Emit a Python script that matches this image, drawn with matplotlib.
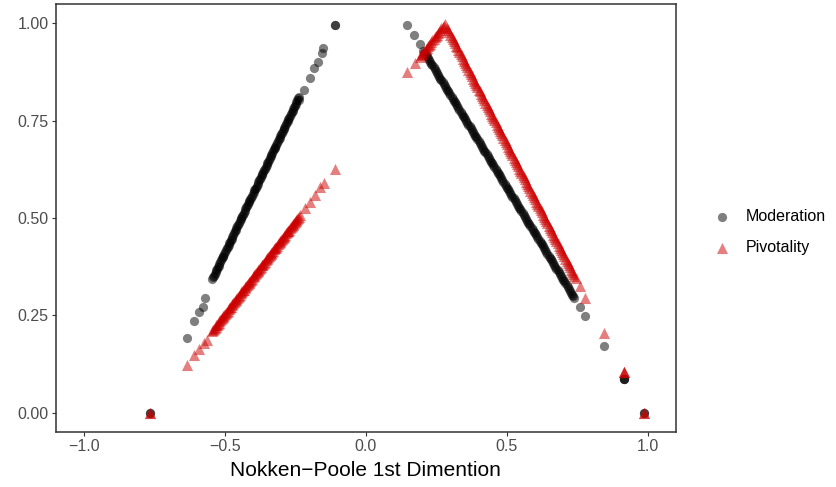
import matplotlib.pyplot as plt

plt.rcParams['font.family'] = ['Liberation Sans', 'DejaVu Sans']

# ---- Moderation (circles) ----
mod_left_x = [-0.764, -0.764, -0.636, -0.609, -0.593, -0.579, -0.569, -0.545,
              -0.539, -0.533, -0.528, -0.522, -0.516, -0.510, -0.505, -0.499, -0.493,
              -0.487, -0.482, -0.476, -0.470, -0.464, -0.459, -0.453, -0.447, -0.441,
              -0.436, -0.430, -0.424, -0.418, -0.413, -0.407, -0.401, -0.395, -0.390,
              -0.384, -0.378, -0.372, -0.367, -0.361, -0.355, -0.349, -0.344, -0.338,
              -0.332, -0.326, -0.321, -0.315, -0.309, -0.303, -0.298, -0.292, -0.286,
              -0.280, -0.275, -0.269, -0.263, -0.257, -0.252, -0.246, -0.240, -0.236,
              -0.219, -0.198, -0.183, -0.169, -0.155, -0.151, -0.109, -0.109]
mod_left_y = [0.000, 0.000, 0.191, 0.234, 0.258, 0.272, 0.294, 0.342,
              0.352, 0.361, 0.368, 0.377, 0.387, 0.396, 0.403, 0.412, 0.422,
              0.431, 0.438, 0.447, 0.457, 0.466, 0.473, 0.482, 0.492, 0.501,
              0.508, 0.517, 0.527, 0.536, 0.543, 0.552, 0.562, 0.571, 0.578,
              0.587, 0.597, 0.606, 0.613, 0.622, 0.632, 0.641, 0.648, 0.658,
              0.667, 0.676, 0.683, 0.693, 0.702, 0.711, 0.718, 0.728, 0.737,
              0.746, 0.753, 0.763, 0.772, 0.781, 0.788, 0.798, 0.807, 0.803,
              0.828, 0.859, 0.885, 0.900, 0.923, 0.936, 0.997, 0.997]
mod_left_fill_x = [-0.542, -0.536, -0.530, -0.525, -0.519, -0.513, -0.507, -0.502,
                   -0.496, -0.490, -0.484, -0.479, -0.473, -0.467, -0.461, -0.456,
                   -0.450, -0.444, -0.438, -0.433, -0.427, -0.421, -0.415, -0.410,
                   -0.404, -0.398, -0.392, -0.387, -0.381, -0.375, -0.369, -0.364,
                   -0.358, -0.352, -0.346, -0.341, -0.335, -0.329, -0.323, -0.318,
                   -0.312, -0.306, -0.300, -0.295, -0.289, -0.283, -0.277, -0.272,
                   -0.266, -0.260, -0.254, -0.249, -0.243, -0.238]
mod_left_fill_y = [0.347, 0.356, 0.365, 0.373, 0.382, 0.391, 0.400, 0.408,
                   0.417, 0.426, 0.435, 0.443, 0.452, 0.461, 0.470, 0.478,
                   0.487, 0.496, 0.505, 0.513, 0.522, 0.531, 0.540, 0.548,
                   0.557, 0.566, 0.575, 0.583, 0.592, 0.601, 0.610, 0.618,
                   0.627, 0.636, 0.645, 0.653, 0.662, 0.671, 0.680, 0.688,
                   0.697, 0.706, 0.715, 0.723, 0.732, 0.741, 0.750, 0.758,
                   0.767, 0.776, 0.785, 0.793, 0.802, 0.810]

mod_right_x = [0.147, 0.171, 0.192,
               0.204, 0.212, 0.220, 0.228, 0.236, 0.244, 0.252, 0.260, 0.268, 0.276,
               0.284, 0.292, 0.300, 0.308, 0.316, 0.324, 0.332, 0.340, 0.348, 0.356,
               0.364, 0.372, 0.380, 0.388, 0.396, 0.404, 0.412, 0.420, 0.428, 0.436,
               0.444, 0.452, 0.460, 0.468, 0.476, 0.484, 0.492, 0.500, 0.508, 0.516,
               0.524, 0.532, 0.540, 0.548, 0.556, 0.564, 0.572, 0.580, 0.588, 0.596,
               0.604, 0.612, 0.620, 0.628, 0.636, 0.644, 0.652, 0.660, 0.668, 0.676,
               0.684, 0.692, 0.700, 0.708, 0.716, 0.724, 0.732, 0.740,
               0.758, 0.779, 0.843, 0.915, 0.915, 0.915, 0.988, 0.988]
mod_right_y = [0.997, 0.969, 0.948,
               0.929, 0.920, 0.910, 0.901, 0.892, 0.882, 0.873, 0.863, 0.854, 0.844,
               0.835, 0.825, 0.816, 0.806, 0.797, 0.787, 0.778, 0.768, 0.759, 0.749,
               0.740, 0.730, 0.721, 0.711, 0.702, 0.692, 0.683, 0.673, 0.664, 0.654,
               0.645, 0.635, 0.626, 0.616, 0.607, 0.597, 0.588, 0.578, 0.569, 0.560,
               0.550, 0.541, 0.531, 0.522, 0.512, 0.503, 0.493, 0.484, 0.474, 0.465,
               0.455, 0.446, 0.436, 0.427, 0.417, 0.408, 0.398, 0.389, 0.379, 0.370,
               0.360, 0.351, 0.341, 0.332, 0.322, 0.313, 0.303, 0.294,
               0.271, 0.247, 0.172, 0.085, 0.085, 0.085, 0.000, 0.000]
mod_right_fill_x = [0.208, 0.216, 0.224, 0.232, 0.240, 0.248, 0.256, 0.264, 0.272,
                    0.280, 0.288, 0.296, 0.304, 0.312, 0.320, 0.328, 0.336, 0.344,
                    0.352, 0.360, 0.368, 0.376, 0.384, 0.392, 0.400, 0.408, 0.416,
                    0.424, 0.432, 0.440, 0.448, 0.456, 0.464, 0.472, 0.480, 0.488,
                    0.496, 0.504, 0.512, 0.520, 0.528, 0.536, 0.544, 0.552, 0.560,
                    0.568, 0.576, 0.584, 0.592, 0.600, 0.608, 0.616, 0.624, 0.632,
                    0.640, 0.648, 0.656, 0.664, 0.672, 0.680, 0.688, 0.696, 0.704,
                    0.712, 0.720, 0.728, 0.736]
mod_right_fill_y = [0.925, 0.915, 0.906, 0.896, 0.887, 0.877, 0.868, 0.858, 0.849,
                    0.839, 0.830, 0.820, 0.811, 0.801, 0.792, 0.782, 0.773, 0.763,
                    0.754, 0.745, 0.735, 0.726, 0.716, 0.707, 0.697, 0.688, 0.678,
                    0.669, 0.659, 0.650, 0.640, 0.631, 0.621, 0.612, 0.602, 0.593,
                    0.583, 0.574, 0.564, 0.555, 0.545, 0.536, 0.526, 0.517, 0.507,
                    0.498, 0.488, 0.479, 0.469, 0.460, 0.450, 0.441, 0.432, 0.422,
                    0.413, 0.403, 0.394, 0.384, 0.375, 0.365, 0.356, 0.346, 0.337,
                    0.327, 0.318, 0.308, 0.299]

# ---- Pivotality (triangles) ----
piv_left_x = [-0.764, -0.764, -0.636, -0.611, -0.593, -0.575, -0.563, -0.545,
              -0.539, -0.533, -0.528, -0.522, -0.516, -0.510, -0.505, -0.499, -0.493,
              -0.487, -0.482, -0.476, -0.470, -0.464, -0.459, -0.453, -0.447, -0.441,
              -0.436, -0.430, -0.424, -0.418, -0.413, -0.407, -0.401, -0.395, -0.390,
              -0.384, -0.378, -0.372, -0.367, -0.361, -0.355, -0.349, -0.344, -0.338,
              -0.332, -0.326, -0.321, -0.315, -0.309, -0.303, -0.298, -0.292, -0.286,
              -0.280, -0.275, -0.269, -0.263, -0.257, -0.252, -0.246, -0.240, -0.234,
              -0.215, -0.198, -0.180, -0.162, -0.150, -0.109]
piv_left_y = [0.000, 0.000, 0.123, 0.147, 0.162, 0.179, 0.187, 0.209,
              0.215, 0.221, 0.226, 0.231, 0.237, 0.243, 0.248, 0.253, 0.259,
              0.265, 0.270, 0.275, 0.281, 0.287, 0.292, 0.297, 0.303, 0.309,
              0.314, 0.319, 0.325, 0.331, 0.336, 0.341, 0.347, 0.353, 0.358,
              0.363, 0.369, 0.375, 0.380, 0.385, 0.391, 0.397, 0.402, 0.407,
              0.413, 0.419, 0.424, 0.429, 0.435, 0.441, 0.445, 0.451, 0.457,
              0.463, 0.467, 0.473, 0.479, 0.485, 0.489, 0.495, 0.501, 0.507,
              0.525, 0.542, 0.559, 0.580, 0.589, 0.627]
piv_left_fill_x = mod_left_fill_x
piv_left_fill_y = [0.212, 0.218, 0.224, 0.228, 0.234, 0.240, 0.246, 0.250,
                   0.256, 0.262, 0.268, 0.272, 0.278, 0.284, 0.290, 0.294,
                   0.300, 0.306, 0.312, 0.316, 0.322, 0.328, 0.334, 0.338,
                   0.344, 0.350, 0.356, 0.360, 0.366, 0.372, 0.378, 0.382,
                   0.388, 0.394, 0.400, 0.404, 0.410, 0.416, 0.422, 0.426,
                   0.432, 0.438, 0.444, 0.448, 0.454, 0.460, 0.466, 0.470,
                   0.476, 0.482, 0.488, 0.492, 0.498, 0.503]

piv_right_x = [0.147, 0.174,
               0.192, 0.200, 0.208, 0.216, 0.224, 0.232, 0.240, 0.248, 0.256, 0.264,
               0.272, 0.280,
               0.288, 0.296, 0.304, 0.312, 0.320, 0.328, 0.336, 0.344, 0.352, 0.360,
               0.368, 0.376, 0.384, 0.392, 0.400, 0.408, 0.416, 0.424, 0.432, 0.440,
               0.448, 0.456, 0.464, 0.472, 0.480, 0.488, 0.496, 0.504, 0.512, 0.520,
               0.528, 0.536, 0.544, 0.552, 0.560, 0.568, 0.576, 0.584, 0.592, 0.600,
               0.608, 0.616, 0.624, 0.632, 0.640, 0.648, 0.656, 0.664, 0.672, 0.680,
               0.688, 0.696, 0.704, 0.712, 0.720, 0.728, 0.736, 0.744,
               0.758, 0.779, 0.843, 0.915, 0.915, 0.915, 0.988, 0.988]
piv_right_y = [0.875, 0.897,
               0.914, 0.922, 0.929, 0.937, 0.945, 0.952, 0.960, 0.967, 0.975, 0.983,
               0.990, 0.998,
               0.988, 0.977, 0.966, 0.955, 0.943, 0.932, 0.921, 0.909, 0.898, 0.887,
               0.875, 0.864, 0.853, 0.842, 0.830, 0.819, 0.808, 0.796, 0.785, 0.774,
               0.762, 0.751, 0.740, 0.729, 0.717, 0.706, 0.695, 0.683, 0.672, 0.661,
               0.650, 0.638, 0.627, 0.616, 0.604, 0.593, 0.582, 0.570, 0.559, 0.548,
               0.537, 0.525, 0.514, 0.503, 0.491, 0.480, 0.469, 0.457, 0.446, 0.435,
               0.424, 0.412, 0.401, 0.390, 0.378, 0.367, 0.356, 0.345,
               0.325, 0.295, 0.205, 0.103, 0.103, 0.103, 0.000, 0.000]
piv_right_fill_x = [0.196, 0.204, 0.212, 0.220, 0.228, 0.236, 0.244, 0.252, 0.260,
                    0.268, 0.276,
                    0.292, 0.300, 0.308, 0.316, 0.324, 0.332, 0.340, 0.348, 0.356,
                    0.364, 0.372, 0.380, 0.388, 0.396, 0.404, 0.412, 0.420, 0.428,
                    0.436, 0.444, 0.452, 0.460, 0.468, 0.476, 0.484, 0.492, 0.500,
                    0.508, 0.516, 0.524, 0.532, 0.540, 0.548, 0.556, 0.564, 0.572,
                    0.580, 0.588, 0.596, 0.604, 0.612, 0.620, 0.628, 0.636, 0.644,
                    0.652, 0.660, 0.668, 0.676, 0.684, 0.692, 0.700, 0.708, 0.716,
                    0.724, 0.732, 0.740]
piv_right_fill_y = [0.918, 0.925, 0.933, 0.941, 0.948, 0.956, 0.964, 0.971, 0.979,
                    0.987, 0.994,
                    0.983, 0.971, 0.960, 0.949, 0.938, 0.926, 0.915, 0.904, 0.892,
                    0.881, 0.870, 0.858, 0.847, 0.836, 0.825, 0.813, 0.802, 0.791,
                    0.779, 0.768, 0.757, 0.746, 0.734, 0.723, 0.712, 0.700, 0.689,
                    0.678, 0.666, 0.655, 0.644, 0.633, 0.621, 0.610, 0.599, 0.587,
                    0.576, 0.565, 0.554, 0.542, 0.531, 0.520, 0.508, 0.497, 0.486,
                    0.474, 0.463, 0.452, 0.441, 0.429, 0.418, 0.407, 0.395, 0.384,
                    0.373, 0.361, 0.350]

x_ticks = [-1.0, -0.5, 0.0, 0.5, 1.0]
y_ticks = [0.00, 0.25, 0.50, 0.75, 1.00]

mod_x = mod_left_x + mod_left_fill_x + mod_right_x + mod_right_fill_x
mod_y = mod_left_y + mod_left_fill_y + mod_right_y + mod_right_fill_y
piv_x = piv_left_x + piv_left_fill_x + piv_right_x + piv_right_fill_x
piv_y = piv_left_y + piv_left_fill_y + piv_right_y + piv_right_fill_y

fig = plt.figure(figsize=(8.36, 4.87), dpi=100)
ax = fig.add_axes([0.0666, 0.113, 0.742, 0.879])

ax.scatter(mod_x, mod_y, s=44, marker='o', color='black', alpha=0.5,
           linewidths=0, label='Moderation')
ax.scatter(piv_x, piv_y, s=64, marker='^', color='#CD0000', alpha=0.5,
           linewidths=0, label='Pivotality')

ax.set_xlim(-1.1, 1.1)
ax.set_ylim(-0.05, 1.05)
ax.set_xticks(x_ticks)
ax.set_xticklabels(['\u22121.0', '\u22120.5', '0.0', '0.5', '1.0'])
ax.set_yticks(y_ticks)
ax.set_yticklabels(['%.2f' % v for v in y_ticks])
ax.tick_params(colors='#333333', labelcolor='#4D4D4D', labelsize=11.5,
               length=3, width=0.8, pad=2)
for sp in ax.spines.values():
    sp.set_color('#333333')
    sp.set_linewidth(1.1)
ax.set_xlabel('Nokken\u2212Poole 1st Dimention', fontsize=15, labelpad=5)

fig.legend(loc='center left', bbox_to_anchor=(0.827, 0.524),
           frameon=False, fontsize=11.5, handletextpad=0.5,
           labelspacing=1.0, scatterpoints=1)

fig.savefig('out.png', dpi=100)
